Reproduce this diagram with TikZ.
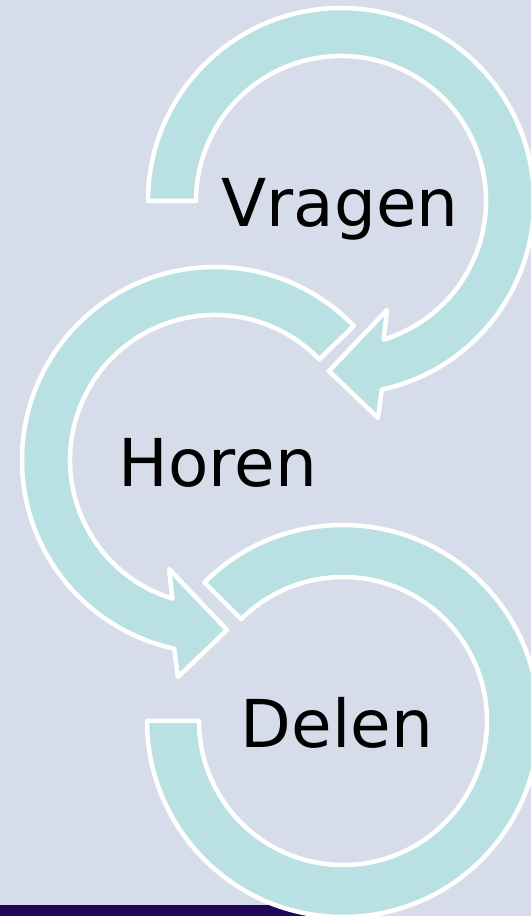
\documentclass[tikz,border=0pt]{standalone}
\usepackage{fontspec}
\setmainfont{DejaVu Sans}
\usepackage{xcolor}
\definecolor{slidebg}{HTML}{D6DCE9}
\definecolor{ringfill}{HTML}{B9E0E3}
\definecolor{barpurple}{HTML}{22065A}

\begin{document}
\begin{tikzpicture}[
      x=1pt, y=1pt,
      ring/.style={fill=ringfill, draw=white, line width=4.5pt, line join=round},
      word/.style={anchor=base, inner sep=0pt, font=\fontsize{66}{72}\selectfont}
    ]
    \useasboundingbox (0,0) rectangle (531,916);
    \clip (0,0) rectangle (531,916);
    \fill[slidebg] (0,0) rectangle (531,916);
    \fill[barpurple] (0,0) rectangle (340,11);

    % Vragen
    \begin{scope}[shift={(341,715)}]
      \draw[ring] (180:193) arc[start angle=180, end angle=-77.8, radius=193]
        -- (37,-217) -- (-12,-170) -- (46,-109) -- (-72.9:145)
        arc[start angle=-72.9, end angle=180, radius=145] -- cycle;
    \end{scope}
    % Horen
    \begin{scope}[shift={(215,456)}]
      \draw[ring] (44:193) arc[start angle=44, end angle=257.8, radius=193]
        -- (-37,-217) -- (12,-170) -- (-46,-109) -- (252.9:145)
        arc[start angle=252.9, end angle=44, radius=145] -- cycle;
    \end{scope}
    % Delen
    \begin{scope}[shift={(343,195)}]
      \draw[ring] (135:196) arc[start angle=135, end angle=-180, radius=196]
        -- (-180:144) arc[start angle=-180, end angle=135, radius=144] -- cycle;
    \end{scope}

    \node[word] (vragen) at (340,689) {Vragen};
    \node[word] (horen) at (218,429) {Horen};
    \node[word] (delen) at (337,168) {Delen};
\end{tikzpicture}
\end{document}
